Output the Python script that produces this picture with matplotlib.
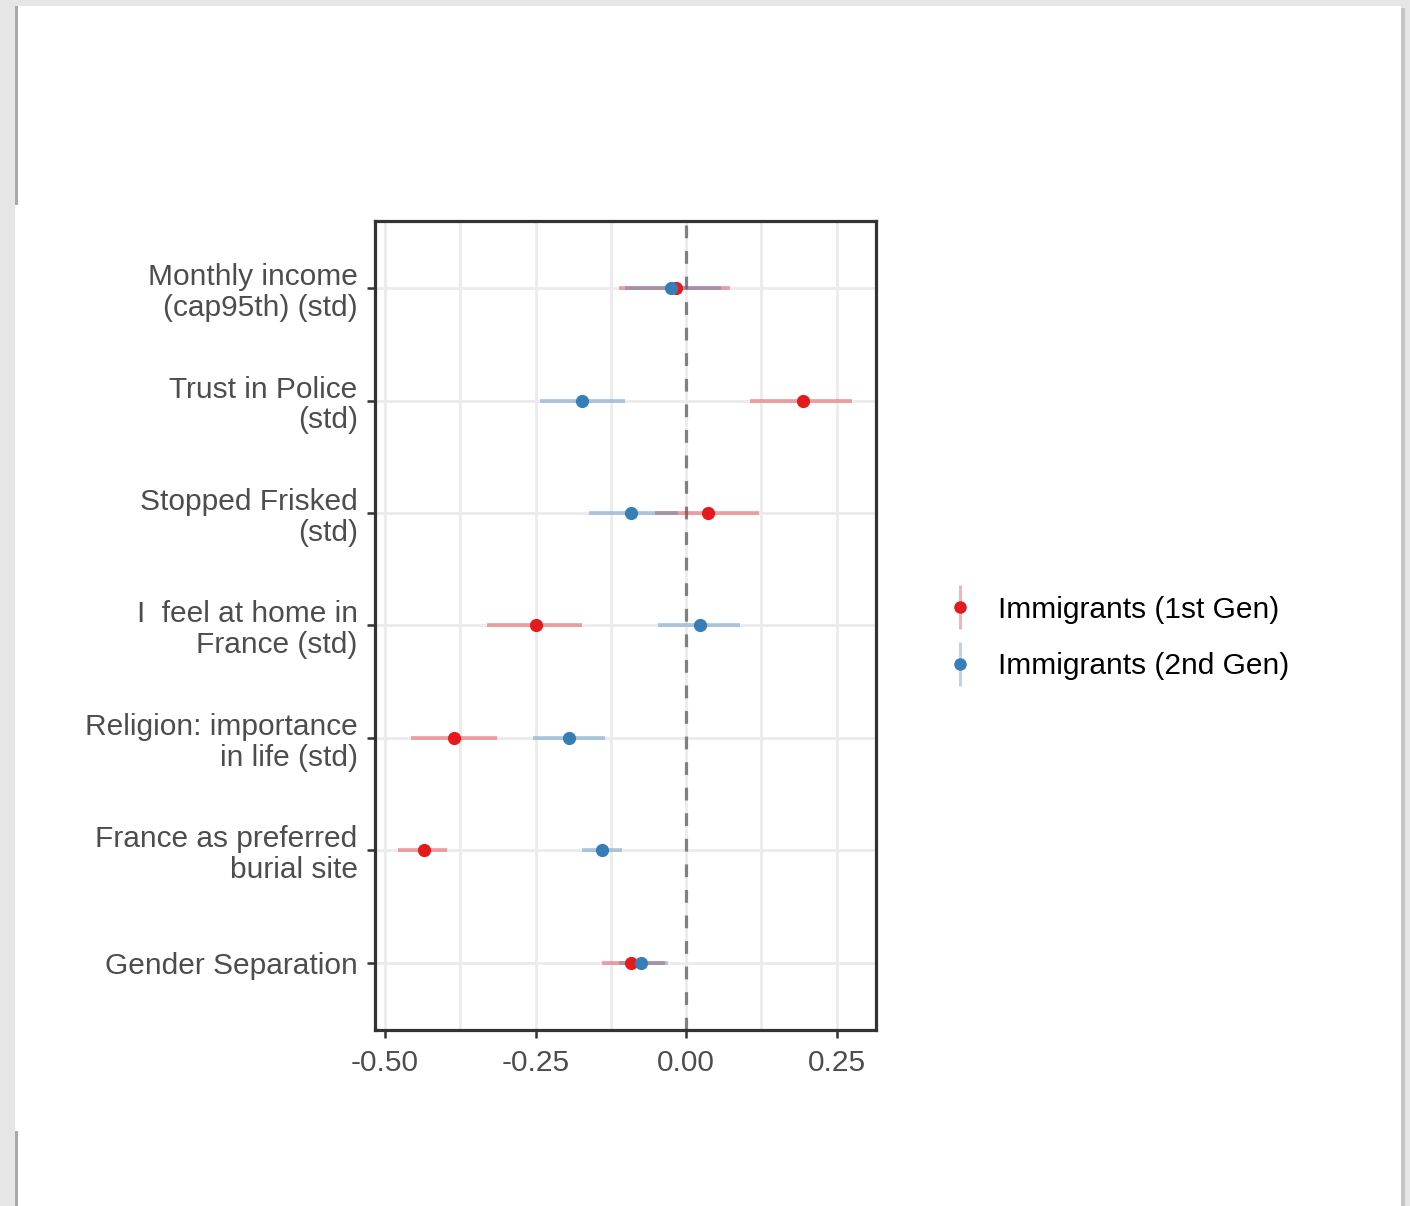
import matplotlib.pyplot as plt
from matplotlib.lines import Line2D
from matplotlib.patches import Rectangle
from matplotlib.legend_handler import HandlerBase

plt.rcParams['font.family'] = ['Liberation Sans', 'DejaVu Sans']

# categories from top to bottom
etiquetas = ["Monthly income\n(cap95th) (std)", "Trust in Police\n(std)", "Stopped Frisked\n(std)",
             "I  feel at home in\nFrance (std)", "Religion: importance\nin life (std)",
             "France as preferred\nburial site", "Gender Separation"]

# Immigrants (1st Gen)
gen1_est = [-0.017, 0.194, 0.036, -0.249, -0.386, -0.435, -0.091]
gen1_lo = [-0.111, 0.106, -0.051, -0.331, -0.457, -0.478, -0.140]
gen1_hi = [0.073, 0.276, 0.122, -0.173, -0.314, -0.397, -0.035]

# Immigrants (2nd Gen)
gen2_est = [-0.025, -0.172, -0.091, 0.024, -0.194, -0.140, -0.074]
gen2_lo = [-0.101, -0.243, -0.161, -0.047, -0.254, -0.173, -0.111]
gen2_hi = [0.058, -0.101, -0.013, 0.090, -0.135, -0.106, -0.030]

xticks = [-0.50, -0.25, 0.00, 0.25]
xtick_labels = ["-0.50", "-0.25", "0.00", "0.25"]

ROJO = "#E41A1C"
AZUL = "#377EB8"
W, H = 1410, 1206


class ClaveVertical(HandlerBase):
    """Legend key: light vertical line with a point, like ggplot pointrange."""
    def create_artists(self, legend, orig, xd, yd, width, height, fontsize, trans):
        cx = -xd + width / 2
        cy = -yd + height / 2
        linea = Line2D([cx, cx], [cy - height * 1.05, cy + height * 1.05], color=orig.get_color(),
                       alpha=0.33, lw=2.2, solid_capstyle='butt', transform=trans)
        punto = Line2D([cx], [cy], marker='o', ms=8, color=orig.get_color(), ls='none', transform=trans)
        return [linea, punto]


fig = plt.figure(figsize=(W / 100, H / 100), dpi=100)
fig.patch.set_facecolor("#E6E6E6")

# screenshot page frame
def px_rect(x0, y0, x1, y1, color):
    fig.patches.append(Rectangle((x0 / W, 1 - y1 / H), (x1 - x0) / W, (y1 - y0) / H,
                                 transform=fig.transFigure, facecolor=color, edgecolor='none', zorder=-10))

px_rect(15, 6, 18, H, "#A8A8A8")
px_rect(1401, 8, 1405, H, "#C4C4C4")
px_rect(18, 6, 1401, H, "white")
px_rect(15, 205, 18, 1131, "white")

ax = fig.add_axes([375 / W, 1 - 1030 / H, 501 / W, 809 / H])
ax.set_facecolor("white")

n = len(etiquetas)
ypos = list(range(n, 0, -1))

for est, lo, hi, color in [(gen1_est, gen1_lo, gen1_hi, ROJO), (gen2_est, gen2_lo, gen2_hi, AZUL)]:
    ax.hlines(ypos, lo, hi, color=color, alpha=0.37, lw=2.9, zorder=3)
for est, color in [(gen1_est, ROJO), (gen2_est, AZUL)]:
    ax.plot(est, ypos, 'o', ms=8.5, color=color, zorder=4)

ax.axvline(0, color="#808080", lw=2.3, ls=(0, (4, 4)), zorder=2.5)

ax.set_xlim(-0.5166, 0.3155)
ax.set_ylim(0.4, n + 0.6)
ax.set_xticks(xticks)
ax.set_xticklabels(xtick_labels)
ax.set_xticks([-0.375, -0.125, 0.125], minor=True)
ax.set_yticks(ypos)
ax.set_yticklabels(etiquetas, linespacing=1.12)
for t in ax.get_yticklabels():
    t.set_y(t.get_position()[1])

ax.grid(True, which='both', axis='x', color="#EBEBEB", lw=2.0, zorder=0)
ax.grid(True, which='major', axis='y', color="#EBEBEB", lw=2.0, zorder=0)
ax.set_axisbelow(True)
ax.tick_params(which='minor', length=0)
ax.tick_params(which='major', length=5.5, width=1.8, color="#333333", labelsize=21.5,
               labelcolor="#4D4D4D")
ax.tick_params(axis='x', pad=8)
ax.tick_params(axis='y', pad=7)
for s in ax.spines.values():
    s.set_color("#333333")
    s.set_linewidth(2.3)

handles = [Line2D([], [], color=ROJO), Line2D([], [], color=AZUL)]
fig.legend(handles, ["Immigrants (1st Gen)", "Immigrants (2nd Gen)"],
           handler_map={Line2D: ClaveVertical()}, loc='center left',
           bbox_to_anchor=(932 / W, 1 - 638 / H), frameon=False, fontsize=21.5,
           handlelength=0.9, handletextpad=0.8, labelspacing=0.95, borderpad=0)

fig.savefig("out.png", dpi=100, facecolor=fig.get_facecolor())
